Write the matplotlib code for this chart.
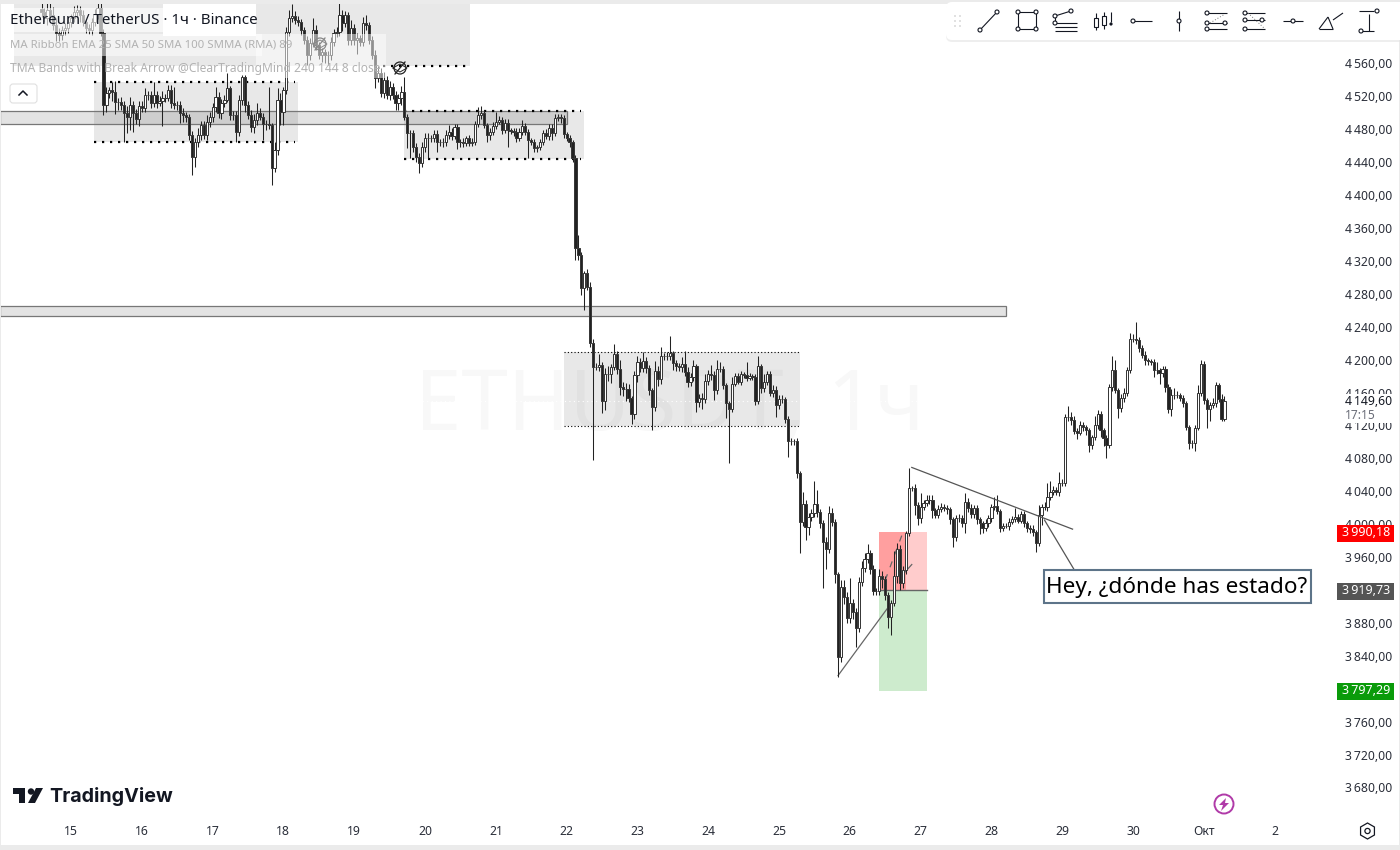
import matplotlib
matplotlib.use('Agg')
import matplotlib.pyplot as plt
from matplotlib.patches import Rectangle, Circle, Polygon, FancyBboxPatch, RegularPolygon
from matplotlib.ticker import FuncFormatter

plt.rcParams['font.family'] = ['Noto Sans', 'DejaVu Sans']

# hourly candles, first one is 10 hours before Sep 15 00:00. every row after the first is one day
closes = [
    4622, 4615, 4625, 4619, 4607, 4597, 4595, 4601, 4603, 4610,
    4615, 4622, 4625, 4619, 4610, 4603, 4601, 4610, 4620, 4627, 4597, 4509, 4524, 4528, 4525, 4513, 4513, 4509, 4500, 4495, 4509, 4500, 4492, 4508,
    4506, 4522, 4522, 4512, 4522, 4512, 4514, 4518, 4518, 4528, 4512, 4509, 4509, 4500, 4497, 4495, 4473, 4446, 4465, 4473, 4485, 4473, 4489, 4495,
    4507, 4519, 4500, 4512, 4516, 4530, 4497, 4497, 4477, 4516, 4543, 4509, 4497, 4483, 4491, 4500, 4495, 4487, 4487, 4485, 4433, 4455, 4516, 4501,
    4528, 4598, 4615, 4618, 4613, 4610, 4601, 4588, 4570, 4585, 4601, 4582, 4570, 4574, 4570, 4570, 4586, 4597, 4598, 4619, 4609, 4619, 4588, 4603,
    4588, 4591, 4586, 4609, 4607, 4588, 4570, 4542, 4549, 4524, 4540, 4522, 4531, 4522, 4512, 4518, 4525, 4495, 4475, 4475, 4458, 4446, 4439, 4458,
    4469, 4469, 4469, 4474, 4464, 4464, 4464, 4473, 4477, 4472, 4483, 4464, 4464, 4463, 4469, 4463, 4464, 4486, 4497, 4500, 4485, 4473, 4477, 4484,
    4489, 4491, 4479, 4488, 4479, 4478, 4477, 4469, 4477, 4484, 4477, 4467, 4464, 4457, 4458, 4464, 4475, 4472, 4481, 4475, 4494, 4495, 4494, 4474,
    4470, 4464, 4445, 4336, 4327, 4287, 4305, 4288, 4220, 4191, 4191, 4193, 4150, 4182, 4182, 4191, 4207, 4189, 4167, 4164, 4164, 4153, 4134, 4181,
    4197, 4190, 4198, 4190, 4163, 4142, 4186, 4176, 4204, 4204, 4204, 4208, 4196, 4192, 4191, 4195, 4185, 4173, 4179, 4192, 4148, 4154, 4152, 4174,
    4182, 4181, 4163, 4189, 4189, 4169, 4147, 4140, 4171, 4180, 4173, 4182, 4181, 4178, 4180, 4179, 4150, 4192, 4165, 4173, 4182, 4160, 4163, 4145,
    4152, 4152, 4128, 4101, 4101, 4101, 4062, 4003, 4025, 3997, 4009, 4014, 4025, 4015, 4001, 3978, 3970, 4014, 4003, 3939, 3838, 3924, 3911, 3886,
    3904, 3893, 3874, 3930, 3947, 3958, 3965, 3945, 3919, 3919, 3937, 3933, 3914, 3887, 3904, 3937, 3970, 3928, 3944, 3989, 4044, 4044, 4023, 4007,
    4021, 4026, 4030, 4030, 4017, 4011, 4018, 4021, 4020, 4018, 4006, 3984, 4007, 4007, 4001, 4027, 4020, 4013, 4020, 4006, 4001, 3995, 4001, 4007,
    4021, 4022, 4016, 3995, 3998, 3998, 4003, 4006, 4009, 4004, 4013, 4001, 3995, 3994, 3990, 3977, 4011, 4021, 4021, 4033, 4039, 4041, 4039, 4050,
    4050, 4130, 4130, 4127, 4113, 4111, 4120, 4118, 4114, 4096, 4106, 4120, 4134, 4114, 4105, 4096, 4167, 4187, 4163, 4141, 4154, 4160, 4187, 4225,
    4225, 4224, 4214, 4206, 4199, 4198, 4197, 4187, 4187, 4184, 4189, 4167, 4140, 4157, 4157, 4157, 4153, 4147, 4118, 4099, 4099, 4117, 4159, 4195,
    4151, 4140, 4145, 4147, 4169, 4152, 4128, 4149.6,
]
upper_wick = [
    8, 6, 10, 8, 10, 8, 6, 4, 6, 8,
    5, 8, 6, 5, 6, 4, 5, 5, 6, 10, 6, 5, 8, 4, 10, 14, 5, 6, 5, 8, 10, 6, 5, 6,
    6, 8, 5, 5, 16, 4, 6, 8, 5, 6, 6, 20, 6, 6, 6, 4, 3, 5, 4, 8, 5, 5, 8, 6,
    5, 12, 6, 5, 6, 19, 3, 5, 5, 6, 3, 3, 5, 6, 8, 12, 6, 5, 4, 44, 3, 10, 14, 8,
    4, 6, 10, 14, 6, 5, 4, 3, 5, 6, 14, 6, 4, 5, 4, 5, 6, 5, 6, 14, 6, 5, 3, 10,
    5, 6, 4, 8, 10, 3, 5, 6, 8, 6, 10, 5, 8, 5, 4, 5, 8, 18, 3, 4, 4, 5, 5, 6,
    6, 6, 4, 5, 5, 4, 5, 6, 8, 5, 3, 3, 4, 5, 3, 4, 5, 4, 10, 8, 3, 3, 4, 5,
    12, 5, 4, 4, 4, 3, 3, 4, 5, 7, 4, 3, 3, 4, 3, 4, 4, 5, 6, 6, 4, 4, 3, 3,
    3, 3, 3, 4, 16, 4, 3, 5, 6, 5, 5, 14, 4, 8, 10, 4, 12, 4, 10, 6, 8, 6, 3, 5,
    8, 5, 11, 5, 4, 3, 12, 6, 11, 4, 5, 21, 3, 4, 4, 8, 15, 6, 5, 8, 3, 4, 5, 8,
    5, 12, 5, 10, 8, 3, 3, 3, 8, 4, 4, 4, 3, 16, 4, 3, 3, 13, 3, 10, 4, 4, 6, 5,
    5, 5, 3, 4, 4, 3, 4, 3, 14, 4, 5, 5, 27, 17, 4, 4, 6, 8, 6, 3, 3, 8, 8, 6,
    31, 5, 5, 6, 8, 7, 11, 4, 5, 4, 8, 6, 4, 4, 4, 30, 7, 5, 5, 3, 24, 3, 5, 4,
    17, 4, 5, 5, 6, 3, 5, 5, 3, 3, 3, 3, 4, 5, 4, 11, 5, 4, 3, 3, 3, 3, 5, 4,
    4, 11, 14, 3, 3, 3, 5, 4, 11, 3, 3, 3, 3, 4, 5, 3, 12, 4, 6, 17, 14, 5, 4, 13,
    5, 4, 14, 6, 4, 4, 5, 4, 3, 3, 3, 12, 5, 4, 3, 3, 3, 17, 12, 3, 4, 5, 4, 8,
    6, 21, 4, 4, 4, 3, 3, 4, 10, 3, 3, 3, 4, 7, 8, 5, 3, 4, 3, 3, 3, 3, 10, 5,
    3, 3, 3, 6, 4, 3, 6, 6,
]
lower_wick = [
    6, 4, 8, 6, 6, 10, 8, 6, 6, 6,
    6, 5, 6, 8, 5, 6, 5, 6, 5, 6, 4, 12, 8, 6, 10, 14, 10, 6, 35, 20, 16, 23, 6, 8,
    5, 5, 6, 6, 5, 6, 4, 30, 5, 4, 6, 4, 6, 12, 8, 6, 6, 22, 12, 6, 6, 5, 6, 6,
    6, 6, 6, 8, 5, 3, 6, 6, 12, 5, 6, 8, 5, 6, 8, 6, 4, 20, 8, 5, 21, 5, 6, 16,
    16, 5, 4, 4, 5, 4, 6, 4, 12, 6, 5, 6, 5, 8, 10, 12, 6, 5, 5, 4, 10, 5, 6, 6,
    6, 16, 5, 5, 6, 4, 4, 12, 5, 5, 6, 5, 6, 5, 8, 8, 8, 4, 18, 30, 5, 6, 12, 5,
    5, 24, 5, 4, 12, 4, 5, 4, 5, 5, 4, 8, 6, 4, 3, 3, 3, 3, 3, 4, 4, 8, 6, 4,
    4, 3, 5, 4, 20, 4, 5, 4, 3, 4, 4, 22, 3, 4, 4, 3, 3, 4, 5, 8, 3, 4, 6, 4,
    4, 5, 5, 15, 6, 8, 27, 3, 5, 113, 4, 5, 15, 11, 8, 10, 4, 6, 10, 8, 14, 5, 12, 6,
    8, 5, 5, 6, 6, 28, 5, 8, 5, 5, 5, 4, 8, 6, 5, 6, 5, 6, 5, 5, 12, 6, 12, 5,
    5, 6, 12, 5, 4, 5, 18, 66, 4, 3, 3, 4, 3, 4, 3, 4, 5, 4, 5, 4, 4, 4, 5, 15,
    5, 5, 5, 19, 5, 5, 6, 38, 5, 16, 10, 5, 5, 6, 6, 55, 25, 5, 5, 11, 24, 6, 8, 6,
    6, 8, 23, 5, 5, 5, 5, 6, 5, 5, 5, 10, 6, 13, 22, 4, 8, 8, 5, 4, 3, 4, 12, 8,
    6, 4, 4, 6, 10, 4, 3, 3, 4, 6, 6, 12, 5, 4, 4, 12, 5, 5, 6, 6, 13, 6, 3, 4,
    4, 4, 4, 4, 3, 3, 5, 3, 3, 3, 3, 5, 4, 5, 4, 11, 3, 12, 4, 5, 3, 3, 3, 5,
    4, 3, 4, 6, 3, 8, 3, 5, 5, 8, 5, 4, 4, 8, 10, 15, 3, 5, 4, 12, 5, 5, 4, 3,
    3, 5, 5, 4, 6, 5, 4, 8, 4, 14, 5, 6, 5, 8, 5, 4, 3, 4, 4, 8, 6, 10, 3, 3,
    5, 23, 14, 4, 4, 3, 3, 3,
]
first_hour = -10
if not len(closes) == len(upper_wick) == len(lower_wick) == 402:
    raise ValueError(f'{len(closes)} {len(upper_wick)} {len(lower_wick)}')

price_ticks = list(range(3680, 4561, 40))
day_hours = list(range(0, 409, 24))
day_labels = ['15', '16', '17', '18', '19', '20', '21', '22', '23', '24', '25', '26', '27', '28', '29', '30', 'Окт', '2']

last_price = 4149.60
stop_price = 3990.18
entry_price = 3919.73
target_price = 3797.29

# zones: first hour, last hour, high price, low price
zone_left = (7.8, 77, 4538, 4465)
zone_mid = (113, 174, 4502, 4444)
zone_range = (167, 247, 4209, 4119)
zone_top = (-19.3, 135.3, 4640, 4557)
band_upper = (-24, 168, 4502, 4486)
band_lower = (-24, 317, 4265, 4253)

dark = '#222222'
fig = plt.figure(figsize=(14, 8.5), dpi=100, facecolor='white')
ax = fig.add_axes([1 / 1400, 32 / 850, 1335 / 1400, 814 / 850])
ax.set_xlim(-23.73, 428.8)
ax.set_ylim(3642.9, 4632.3)
for s in ax.spines.values():
    s.set_visible(False)

ax.text(203, 4141, 'ETHUSDT, 1ч', fontsize=60, color='#f8f8f8', ha='center', va='center', zorder=0)


def add_zone(z):
    ax.add_patch(Rectangle((z[0], z[3]), z[1] - z[0], z[2] - z[3], fc='black', alpha=0.09, ec='none', zorder=1))


for z in (zone_left, zone_mid, zone_range, zone_top):
    add_zone(z)

for b in (band_upper, band_lower):
    ax.add_patch(Rectangle((b[0], b[3]), b[1] - b[0], b[2] - b[3], fc='black', alpha=0.11, ec='none', zorder=1.1))
    ax.add_patch(Rectangle((b[0], b[3]), b[1] - b[0], b[2] - b[3], fc='none', ec='#777777', lw=0.9, zorder=1.2))

# dotted borders
for z in (zone_left, zone_mid):
    for p in (z[2], z[3]):
        ax.plot([z[0], z[1] - 1], [p, p], color='black', lw=1.6, ls=(0, (1, 2.6)), zorder=1.5)
ax.plot([zone_top[0] + 125, zone_top[1] - 1], [zone_top[3], zone_top[3]], color='black', lw=1.6, ls=(0, (1, 2.6)), zorder=1.5)
for p in (zone_range[2], zone_range[3]):
    ax.plot(zone_range[:2], [p, p], color='black', lw=0.8, ls=(0, (1, 2)), zorder=1.5)
ax.plot([-24, 429], [last_price, last_price], color='white', lw=0.8, ls=(0, (1, 3)), zorder=1.6)

# long / short box
ax.add_patch(Rectangle((274, entry_price), 16.3, stop_price - entry_price, fc='#ffcccc', ec='none', zorder=1.3))
ax.add_patch(Rectangle((274, entry_price), 9.2, stop_price - entry_price, fc='#ff9f9f', ec='none', zorder=1.4))
ax.add_patch(Rectangle((274, target_price), 16.3, entry_price - target_price, fc='#cdebcd', ec='none', zorder=1.3))
ax.plot([274, 290.3], [entry_price, entry_price], color='#666666', lw=1, zorder=1.5)

# trend lines
ax.plot([260, 277], [3816, 3899], color='#666666', lw=0.9, zorder=2)
ax.plot([276, 282], [3932, 3990], color='#666666', lw=0.9, ls=(0, (5, 6)), zorder=2)
ax.plot([282.5, 285], [3941, 3951], color='#666666', lw=0.9, zorder=2)
ax.plot([285, 339.5], [4069, 3994], color='#555555', lw=0.9, zorder=4)
ax.plot([330, 340], [4005, 3945], color='#555555', lw=0.9, zorder=4)

# candles
hours = [first_hour + i for i in range(len(closes))]
opens = [closes[0] + 4] + closes[:-1]
highs = [max(o, c) + u for o, c, u in zip(opens, closes, upper_wick)]
lows = [min(o, c) - d for o, c, d in zip(opens, closes, lower_wick)]
ax.vlines(hours, lows, highs, color=dark, lw=0.75, zorder=2.5)
colors = ['white' if c >= o else dark for o, c in zip(opens, closes)]
ax.bar(hours, [abs(c - o) for o, c in zip(opens, closes)], bottom=[min(o, c) for o, c in zip(opens, closes)],
       width=0.75, color=colors, edgecolor='#383838', linewidth=0.72, zorder=3)

ax.yaxis.tick_right()
ax.set_yticks(price_ticks)
ax.yaxis.set_major_formatter(FuncFormatter(lambda v, pos: f'{v:,.2f}'.replace(',', '\u2009').replace('.', ',')))
ax.tick_params(axis='y', length=0, pad=6.3, labelsize=8.8, labelcolor='#2a2e39')
ax.set_xticks(day_hours)
ax.set_xticklabels(day_labels)
ax.tick_params(axis='x', length=0, pad=5, labelsize=8.8, labelcolor='#2a2e39')

# everything below is terminal chrome, drawn in screen pixels
ui = fig.add_axes([0, 0, 1, 1], facecolor='none')
ui.set_xlim(0, 1400)
ui.set_ylim(850, 0)
ui.axis('off')

ui.add_patch(Rectangle((0, 0), 1400, 4, fc='#ebebeb', ec='none'))
ui.add_patch(Rectangle((0, 0), 1.2, 850, fc='#ebebeb', ec='none'))
ui.add_patch(Rectangle((0, 845), 1400, 5, fc='#ebebeb', ec='none'))
ui.add_patch(Rectangle((1398.5, 0), 1.5, 850, fc='#ebebeb', ec='none'))

# legend rows sit on a half white background
ui.add_patch(Rectangle((10, 8), 153, 24, fc='white', alpha=0.62, ec='none'))
ui.add_patch(Rectangle((163, 4), 93, 32, fc='white', ec='none'))
ui.add_patch(Rectangle((10, 34), 252, 22, fc='white', alpha=0.5, ec='none'))
ui.add_patch(Rectangle((256, 34), 130, 44, fc='white', alpha=0.5, ec='none'))
ui.text(10, 20.5, 'Ethereum / TetherUS · 1ч · Binance', fontsize=10.9, color='#131722', va='center')
ui.text(10, 45, 'MA Ribbon EMA 25 SMA 50 SMA 100 SMMA (RMA) 89', fontsize=8.2, color='#b2b2b2', va='center')
ui.text(10, 68, 'TMA Bands with Break Arrow @ClearTradingMind 240 144 8 close', fontsize=8.7, color='#b2b2b2', va='center')
ui.add_patch(FancyBboxPatch((10, 84), 27, 19, boxstyle='round,pad=0,rounding_size=3', fc='white', ec='#e0e0e0', lw=0.8))
ui.plot([19, 23, 27], [95, 91, 95], color='#131722', lw=1.1)

# hidden-drawing eye icons
for ex, ey, col in ((400, 68, '#222222'), (320, 44, '#888888')):
    ui.add_patch(Circle((ex, ey), 6, fc='none', ec=col, lw=0.9))
    ui.plot([ex - 5, ex + 5], [ey + 6, ey - 6], color=col, lw=0.9)
    ui.plot([ex - 7, ex, ex + 7, ex, ex - 7], [ey, ey - 4, ey, ey + 4, ey], color=col, lw=0.7)

# price tags
for y0, bg, val in ((533, '#ff0000', stop_price), (591, '#555555', entry_price), (691, '#0a9b0a', target_price)):
    ui.add_patch(Rectangle((1337, y0 - 8), 57, 16.5, fc=bg, ec='none'))
    ui.text(1390, y0, f'{val:,.2f}'.replace(',', '\u2009').replace('.', ','), fontsize=9, fontweight='bold',
            color='white', ha='right', va='center')
ui.add_patch(Rectangle((1337, 394), 60, 29, fc='white', ec='none'))
ui.text(1345, 401, '4\u2009149,60', fontsize=8.8, color='#131722', va='center')
ui.text(1345, 415.5, '17:15', fontsize=8.6, color='#6a6d78', va='center')

# callout
ui.add_patch(Rectangle((1043.5, 570), 267.5, 33, fc='white', ec='#5d7489', lw=1.5))
ui.text(1177, 587.5, 'Hey, ¿dónde has estado?', fontsize=16.2, color='black', ha='center', va='center')

# logo
ui.add_patch(Polygon([(13, 788), (25, 788), (25, 803), (19, 803), (19, 794), (13, 794)], fc='#131722', ec='none'))
ui.add_patch(Circle((31, 791.5), 3.2, fc='#131722', ec='none'))
ui.add_patch(Polygon([(36, 788), (43, 788), (35, 803), (28, 803)], fc='#131722', ec='none'))
ui.text(49, 796, 'TradingView', fontsize=14.2, fontweight='bold', family='Inter', color='#131722', va='center')

# bolt and settings
ui.add_patch(Circle((1224, 804), 9.5, fc='white', ec='#b03aa8', lw=1.4))
ui.add_patch(Polygon([(1226, 798), (1219, 805), (1223, 805), (1221, 811), (1229, 803), (1225, 803)], fc='#b03aa8', ec='none'))
ui.add_patch(RegularPolygon((1367.5, 831), 6, radius=8, orientation=0, fc='white', ec='#131722', lw=0.9))
ui.add_patch(Circle((1367.5, 831), 2.6, fc='white', ec='#131722', lw=0.9))

# drawing toolbar
ui.add_patch(FancyBboxPatch((946, 4), 460, 38, boxstyle='round,pad=0,rounding_size=6', fc='#e4e4e4', ec='none', alpha=0.6))
ui.add_patch(FancyBboxPatch((946, 2), 460, 38, boxstyle='round,pad=0,rounding_size=6', fc='white', ec='none'))
for dx in (955, 960):
    for dy in (16, 21, 26):
        ui.add_patch(Circle((dx, dy), 0.9, fc='#d0d0d0', ec='none'))

ink = '#131722'
segs = [
    ((980, 30), (997, 12)),
    ((1018, 12), (1036, 12)), ((1036, 12), (1036, 29)), ((1036, 29), (1018, 29)), ((1018, 29), (1018, 12)),
    ((1055, 16), (1071, 11)), ((1055, 16), (1055, 23)), ((1055, 23), (1077, 23)), ((1055, 27), (1077, 27)), ((1055, 31), (1077, 31)),
    ((1096, 13), (1096, 30)), ((1104, 12), (1104, 29)), ((1111, 12), (1111, 22)),
    ((1133, 21), (1152, 21)),
    ((1179, 11), (1179, 31)),
    ((1207, 13), (1227, 13)), ((1207, 23), (1227, 23)), ((1207, 29), (1227, 29)),
    ((1245, 13), (1265, 13)), ((1245, 20), (1265, 20)), ((1245, 29), (1265, 29)),
    ((1283, 21), (1303, 21)),
    ((1359, 11), (1374, 11)), ((1359, 31), (1374, 31)), ((1369, 14), (1369, 31)),
    ((1319, 29), (1333, 29)), ((1319, 29), (1328, 17)), ((1328, 17), (1333, 29)), ((1333, 20), (1343, 13)),
]
for a, b in segs:
    ui.plot([a[0], b[0]], [a[1], b[1]], color=ink, lw=0.8, solid_capstyle='butt')
ui.plot([1210, 1225], [23, 14], color='#777777', lw=0.7, ls=(0, (1, 2)))
ui.plot([1248, 1265], [13, 29], color='#777777', lw=0.7, ls=(0, (1, 2)))
nodes = [(980, 30), (997, 12), (1018, 12), (1036, 12), (1036, 29), (1018, 29), (1055, 16), (1071, 11), (1055, 23),
         (1133, 21), (1179, 21), (1207, 13), (1207, 23), (1225, 23), (1207, 29), (1245, 13), (1262, 20), (1245, 20), (1245, 29),
         (1293, 21), (1377, 11), (1361, 31)]
for n in nodes:
    ui.add_patch(Circle(n, 2.0, fc='white', ec=ink, lw=0.8, zorder=3))
for bx, by, bh in ((1096, 18, 9), (1104, 16, 9)):
    ui.add_patch(Rectangle((bx - 1.6, by), 3.2, bh, fc='white', ec=ink, lw=0.8, zorder=3))
ui.add_patch(Circle((1111, 24), 1.6, fc=ink, ec='none'))

fig.savefig('out.png', dpi=100)
